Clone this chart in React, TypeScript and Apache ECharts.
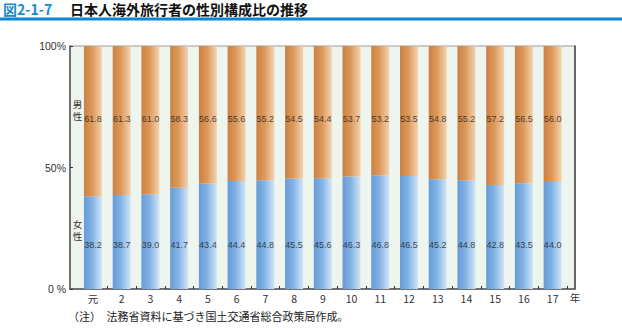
import React, { useEffect, useRef } from "react";
import * as echarts from "echarts";

const categories = ["元", "2", "3", "4", "5", "6", "7", "8", "9", "10", "11", "12", "13", "14", "15", "16", "17"];
const maleShare = [61.8, 61.3, 61.0, 58.3, 56.6, 55.6, 55.2, 54.5, 54.4, 53.7, 53.2, 53.5, 54.8, 55.2, 57.2, 56.5, 56.0];
const femaleShare = [38.2, 38.7, 39.0, 41.7, 43.4, 44.4, 44.8, 45.5, 45.6, 46.3, 46.8, 46.5, 45.2, 44.8, 42.8, 43.5, 44.0];
const yTickLabels: Record<number, string> = { 0: "0 %", 50: "50%", 100: "100%" };
const maleLabelLevel = 70;
const femaleLabelLevel = 18;

const FONT = "'Liberation Sans', Arial, sans-serif";
const CJK = "'Noto Sans CJK JP', sans-serif";

export default function App() {
  const ref = useRef<HTMLDivElement>(null);
  useEffect(() => {
    if (!ref.current) return;
    document.body.style.margin = "0";
    const chart = echarts.init(ref.current, null, { renderer: "svg" });
    const orange = new echarts.graphic.LinearGradient(0, 0, 1, 0, [
      { offset: 0, color: "#ca8244" },
      { offset: 0.45, color: "#dc985a" },
      { offset: 1, color: "#f4d3b0" },
    ]);
    const blue = new echarts.graphic.LinearGradient(0, 0, 1, 0, [
      { offset: 0, color: "#659bd6" },
      { offset: 0.45, color: "#82b2e4" },
      { offset: 1, color: "#d2e5f6" },
    ]);
    const labelStyle = {
      show: true,
      position: "inside" as const,
      fontFamily: FONT,
      fontSize: 9,
      color: "#1a1a1a",
    };
    const vchar = (ch: string, y: number) => ({
      type: "text",
      x: 77.5,
      y,
      style: { text: ch, font: `9.5px ${CJK}`, fill: "#333", align: "center", verticalAlign: "middle" },
    });
    chart.setOption({
      animation: false,
      grid: [
        { left: 70, right: 47, top: 46, bottom: 45, show: true, backgroundColor: "#eef5ee", borderColor: "#999", borderWidth: 1 },
        { left: 78.6, right: 55, top: 46, bottom: 45 },
      ],
      xAxis: [
        { gridIndex: 0, type: "value", min: 0, max: 1, show: true, axisLine: { show: true, lineStyle: { color: "#555", width: 1.5 } }, axisTick: { show: false }, axisLabel: { show: false }, splitLine: { show: false } },
        {
          gridIndex: 1,
          type: "category",
          data: categories,
          axisLine: { show: false },
          axisTick: { show: true, inside: true, length: 3, interval: (i: number) => i > 0, lineStyle: { color: "#333" } },
          axisLabel: { fontFamily: CJK, fontSize: 10.5, color: "#333", margin: 4 },
        },
      ],
      yAxis: [
        {
          gridIndex: 0,
          type: "value",
          min: 0,
          max: 100,
          interval: 50,
          axisLine: { show: true, lineStyle: { color: "#555", width: 1.5 } },
          axisTick: { show: true, inside: true, length: 3, lineStyle: { color: "#333" } },
          axisLabel: { formatter: (v: number) => yTickLabels[v] ?? "", fontFamily: FONT, fontSize: 10.5, color: "#333", margin: 4 },
          splitLine: { show: false },
        },
        { gridIndex: 0, type: "value", position: "right", min: 0, max: 100, axisLine: { show: true, lineStyle: { color: "#444", width: 1.5 } }, axisTick: { show: false }, axisLabel: { show: false }, splitLine: { show: false } },
        { gridIndex: 1, type: "value", min: 0, max: 100, show: false },
      ],
      series: [
        { type: "bar", xAxisIndex: 1, yAxisIndex: 2, stack: "s", barWidth: 18, data: femaleShare, itemStyle: { color: blue } },
        { type: "bar", xAxisIndex: 1, yAxisIndex: 2, stack: "s", barWidth: 18, data: maleShare, itemStyle: { color: orange } },
        {
          type: "scatter",
          xAxisIndex: 1,
          yAxisIndex: 2,
          symbolSize: 1,
          itemStyle: { color: "rgba(0,0,0,0)" },
          data: femaleShare.map((v, i) => [i, femaleLabelLevel, v]),
          label: { ...labelStyle, formatter: (p: any) => Number(p.value[2]).toFixed(1) },
        },
        {
          type: "scatter",
          xAxisIndex: 1,
          yAxisIndex: 2,
          symbolSize: 1,
          itemStyle: { color: "rgba(0,0,0,0)" },
          data: maleShare.map((v, i) => [i, maleLabelLevel, v]),
          label: { ...labelStyle, formatter: (p: any) => Number(p.value[2]).toFixed(1) },
        },
      ],
      graphic: [
        { type: "text", x: 3, y: 9, style: { text: "図2-1-7", font: `bold 14px ${CJK}`, fill: "#1a8ad0", verticalAlign: "middle" } },
        { type: "text", x: 70, y: 9, style: { text: "日本人海外旅行者の性別構成比の推移", font: `bold 14px ${CJK}`, fill: "#111", verticalAlign: "middle" } },
        { type: "rect", shape: { x: 0, y: 17.5, width: 622, height: 3 }, style: { fill: "#0a88d0" } },
        vchar("男", 103.5),
        vchar("性", 116),
        vchar("女", 223.5),
        vchar("性", 236),
        { type: "text", x: 575, y: 292, style: { text: "年", font: `10.5px ${CJK}`, fill: "#333", align: "center" } },
        { type: "text", x: 68, y: 310, style: { text: "（注）　法務省資料に基づき国土交通省総合政策局作成。", font: `11px ${CJK}`, fill: "#222" } },
      ],
    });
    return () => chart.dispose();
  }, []);
  return <div ref={ref} style={{ width: 622, height: 334 }} />;
}
